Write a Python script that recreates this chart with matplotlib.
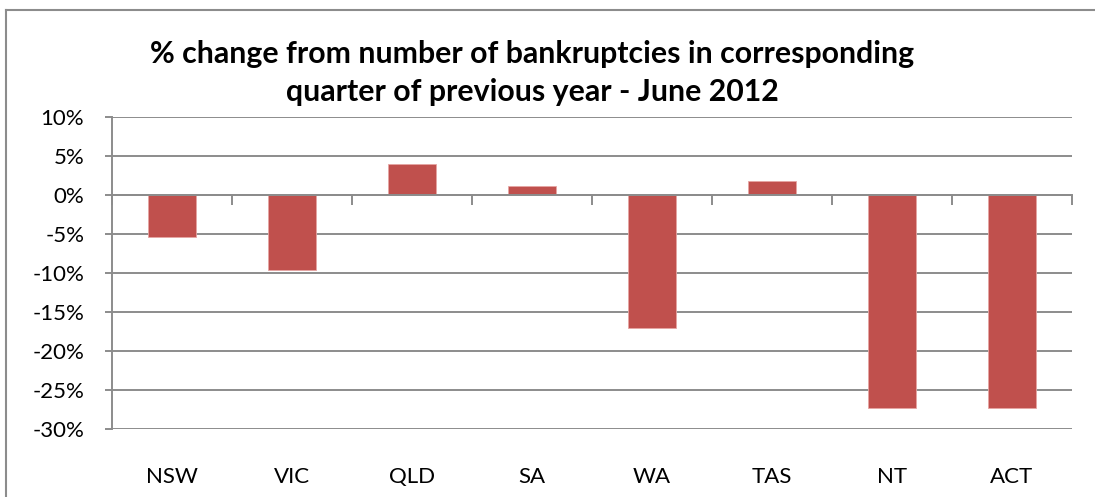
import matplotlib
matplotlib.use("Agg")
import matplotlib.pyplot as plt
import matplotlib.transforms as mtransforms
from matplotlib.lines import Line2D

# Data
states = ["NSW", "VIC", "QLD", "SA", "WA", "TAS", "NT", "ACT"]
pct_change = [-5.4, -9.6, 4.0, 1.1, -17.0, 1.8, -27.3, -27.3]
y_ticks = [10, 5, 0, -5, -10, -15, -20, -25, -30]
title = "% change from number of bankruptcies in corresponding\nquarter of previous year - June 2012"

plt.rcParams['font.family'] = ['Lato', 'DejaVu Sans']

W, H = 1095, 497
fig = plt.figure(figsize=(W / 100, H / 100), dpi=100)
ax = fig.add_axes([112 / W, 1 - 429 / H, (1072 - 112) / W, (429 - 117) / H])

grid_col = '#8c8c8c'
x = list(range(len(states)))
ax.bar(x, pct_change, width=0.4, color='#C0504D', edgecolor='#e6a5a3',
       linewidth=0.6, zorder=3)

ax.set_xlim(-0.5, len(states) - 0.5)
ax.set_ylim(-30, 10)
ax.set_yticks(y_ticks)
ax.set_yticklabels([f"{v}%" for v in y_ticks], fontsize=16)
ax.yaxis.grid(True, color=grid_col, linewidth=1.4, zorder=0)
ax.set_axisbelow(True)

# category axis crosses at 0 with ticks between categories
ax.spines['bottom'].set_position(('data', 0))
ax.spines['bottom'].set_color(grid_col)
ax.spines['bottom'].set_linewidth(1.4)
ax.spines['bottom'].set_zorder(4)
ax.spines['left'].set_color(grid_col)
ax.spines['left'].set_linewidth(1.4)
ax.spines['top'].set_visible(False)
ax.spines['right'].set_visible(False)
ax.set_xticks([i - 0.5 for i in range(len(states) + 1)])
ax.set_xticklabels([])
ax.tick_params(axis='x', direction='out', length=7, width=1.4, color=grid_col)
ax.tick_params(axis='y', direction='out', length=5, width=1.4, color=grid_col, pad=15)

trans = mtransforms.blended_transform_factory(ax.transData, ax.transAxes)
for i, s in enumerate(states):
    ax.text(i, -0.154, s, transform=trans, ha='center', va='center', fontsize=16)

fig.text(532 / W, 1 - 73 / H, title, ha='center', va='center', fontsize=21.8,
         fontweight='bold', linespacing=1.45)

# chart area border (left and top visible)
fig.add_artist(Line2D([6 / W, 6 / W], [0, 1 - 10 / H], transform=fig.transFigure,
                      color='#8c8c8c', linewidth=1.5))
fig.add_artist(Line2D([6 / W, 1], [1 - 10 / H, 1 - 10 / H], transform=fig.transFigure,
                      color='#8c8c8c', linewidth=1.5))

fig.savefig("out.png", dpi=100)
